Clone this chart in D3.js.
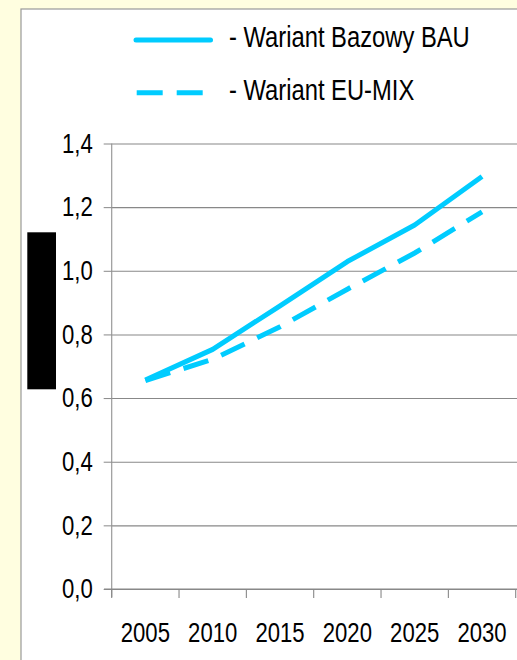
<!DOCTYPE html>
<html><head><meta charset="utf-8">
<script src="https://cdn.jsdelivr.net/npm/d3@7"></script>
<style>
html,body{margin:0;padding:0;background:#fffee0;}
svg{display:block;}
text{font-family:"Liberation Sans",Arial,sans-serif;fill:#000;}
</style></head><body>
<svg id="c" width="517" height="660"></svg>
<script>
const years = ["2005","2010","2015","2020","2025","2030"];
const bau = [0.657, 0.753, 0.890, 1.029, 1.144, 1.296];
const euMix = [0.655, 0.722, 0.824, 0.942, 1.056, 1.185];
const yTicks = [0, 0.2, 0.4, 0.6, 0.8, 1.0, 1.2, 1.4];
const legendLabels = ["- Wariant Bazowy BAU", "- Wariant EU-MIX"];
const lineColor = "#00ccff";
const sx = 0.82; // narrow font emulation

const svg = d3.select("#c");
// panel
svg.append("rect").attr("x",21).attr("y",9).attr("width",520).attr("height",680)
  .attr("fill","#fff").attr("stroke","#999").attr("stroke-width",1.2);

const x = d3.scaleBand().domain(years).range([111.7, 515.7]).padding(0);
const y = d3.scaleLinear().domain([0, 1.4]).range([589, 143.5]);

// gridlines
svg.append("g").attr("transform","translate(111.7,0)")
  .call(d3.axisLeft(y).tickValues(yTicks).tickSize(-420).tickFormat(""))
  .call(g=>g.select(".domain").remove())
  .call(g=>g.selectAll("line").attr("stroke","#888").attr("stroke-width",1.1));

// y axis
svg.append("g").attr("transform","translate(111.7,0)")
  .call(d3.axisLeft(y).tickValues(yTicks).tickSize(8).tickPadding(11)
    .tickFormat(d=>d.toFixed(1).replace(".",",")))
  .call(g=>g.select(".domain").attr("stroke","#999").attr("stroke-width",1.2)
     .attr("d","M0,"+y(1.4)+"V"+(y(0)+8)))
  .call(g=>g.selectAll("line").attr("stroke","#888"))
  .call(g=>g.selectAll("text").attr("font-size",27).attr("font-family",null)
     .attr("x",-19/sx).attr("transform","scale("+sx+",1)"));

// x axis
const xg = svg.append("g").attr("transform","translate(0,589)")
  .call(d3.axisBottom(x).tickSize(0).tickPadding(34))
  .call(g=>g.select(".domain").attr("stroke","#888").attr("stroke-width",1.1)
     .attr("d","M104,0H517"))
  .call(g=>g.selectAll("text").attr("font-size",27).attr("font-family",null)
     .attr("transform","scale("+sx+",1)"));
const bounds = years.map(d=>x(d)).concat([x(years[years.length-1])+x.bandwidth()]);
xg.selectAll("line.bt").data(bounds).enter().append("line").attr("class","bt")
  .attr("x1",d=>d).attr("x2",d=>d).attr("y1",0).attr("y2",9)
  .attr("stroke","#888").attr("stroke-width",1.1);

// lines
const line = d3.line().x((d,i)=>x(years[i])+x.bandwidth()/2).y(d=>y(d));
svg.append("path").datum(bau).attr("d",line).attr("fill","none")
  .attr("stroke",lineColor).attr("stroke-width",5).attr("stroke-linejoin","round");
svg.append("path").datum(euMix).attr("d",line).attr("fill","none")
  .attr("stroke",lineColor).attr("stroke-width",5).attr("stroke-dasharray","26,14");

// legend
const leg = svg.append("g");
leg.append("line").attr("x1",136).attr("x2",210.5).attr("y1",40).attr("y2",40)
  .attr("stroke",lineColor).attr("stroke-width",5).attr("stroke-linecap","round");
leg.append("line").attr("x1",136.7).attr("x2",202.7).attr("y1",92.7).attr("y2",92.7)
  .attr("stroke",lineColor).attr("stroke-width",5).attr("stroke-dasharray","26,14");
leg.selectAll("text").data(legendLabels).enter().append("text")
  .attr("transform",(d,i)=>"translate(229,"+(46.7+i*53.3)+") scale("+sx+",1)")
  .attr("font-size",29).text(d=>d);

// redaction block
svg.append("rect").attr("x",27.3).attr("y",232.3).attr("width",28.7).attr("height",157).attr("fill","#000");
</script></body></html>
